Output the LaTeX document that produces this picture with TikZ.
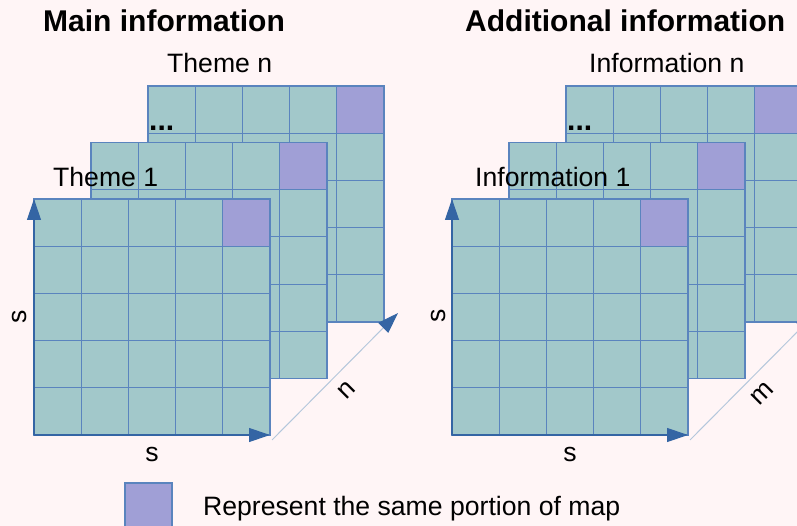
\documentclass[tikz,border=0pt]{standalone}
\usepackage{fontspec}
\setmainfont{Liberation Sans}
\usetikzlibrary{arrows.meta,calc}
\definecolor{bgpink}{HTML}{FFF5F6}
\definecolor{cellfill}{HTML}{A2C8CA}
\definecolor{purplefill}{HTML}{A09FD6}
\definecolor{gridblue}{HTML}{5A84BE}
\definecolor{axisblue}{HTML}{3465A4}
\definecolor{diagblue}{HTML}{B4C7DC}
\tikzset{
  cellbox/.style={draw=gridblue, fill=cellfill, line width=1.1pt, inner sep=0pt, outer sep=0pt,
    minimum width=236pt, minimum height=236pt, anchor=north west},
  samebox/.style={draw=gridblue, fill=purplefill, line width=1.1pt, inner sep=0pt, outer sep=0pt,
    minimum width=47.2pt, minimum height=47.2pt},
  cellline/.style={draw=gridblue, line width=1.1pt},
  axis/.style={draw=axisblue, line width=1.2pt, -{Triangle[length=21pt,width=14pt]}},
  diag/.style={draw=diagblue, line width=1pt, -{Triangle[length=21pt,width=14pt,color=axisblue]}},
  title/.style={font=\fontsize{30}{36}\selectfont\bfseries, anchor=base west, inner sep=0pt},
  lbl/.style={font=\fontsize{26.6}{32}\selectfont, inner sep=0pt}
}
\newcommand\mapgrid[3]{%
  \node[cellbox] (#3) at (#1,#2) {};
  \foreach \k in {1,...,4}{
    \draw[cellline] ($(#3.north west)+(\k*47.2,0)$) -- ($(#3.south west)+(\k*47.2,0)$);
    \draw[cellline] ($(#3.north west)+(0,\k*47.2)$) -- ($(#3.north east)+(0,\k*47.2)$);
  }
  \node[samebox, anchor=north east] (#3p) at (#3.north east) {};
}
\begin{document}
\begin{tikzpicture}[x=1pt,y=-1pt]
\useasboundingbox (0,0) rectangle (797,526);
\fill[bgpink] (0,0) rectangle (797,526);
\clip (0,0) rectangle (797,526);

% left group
\mapgrid{148}{86}{Ln}
\mapgrid{91}{142.5}{Lm}
\mapgrid{34}{199}{Lf}
% right group
\mapgrid{566}{86}{Rn}
\mapgrid{509}{142.5}{Rm}
\mapgrid{452}{199}{Rf}

% axes
\draw[axis] (Lf.south west) -- (Lf.north west);
\draw[axis] (Lf.south west) -- (Lf.south east);
\coordinate (Ld0) at (272,440);
\coordinate (Ld1) at (398,313);
\draw[diag] (Ld0) -- (Ld1);

\draw[axis] (Rf.south west) -- (Rf.north west);
\draw[axis] (Rf.south west) -- (Rf.south east);
\coordinate (Rd0) at (690,440);
\coordinate (Rd1) at (816,313);
\draw[diag] (Rd0) -- (Rd1);

% titles
\node[title] (tL) at (43,32) {Main information};
\node[title] (tR) at (465,32) {Additional information};

% layer labels
\node[lbl, anchor=base west] (thn) at (167,73) {Theme n};
\node[lbl, anchor=base west] (th1) at (53,187) {Theme 1};
\node[lbl, anchor=base west] (inn) at (589,73) {Information n};
\node[lbl, anchor=base west] (in1) at (475,187) {Information 1};
\node[title] (dL) at (149,131) {...};
\node[title] (dR) at (567,131) {...};

% dimension labels
\node[lbl, anchor=base] (sLb) at (152,461) {s};
\node[lbl, rotate=90] (sLl) at (19,317) {s};
\node[lbl, rotate=45] (nL) at (347,390) {n};
\node[lbl, anchor=base] (sRb) at (570,461) {s};
\node[lbl, rotate=90] (sRl) at (438,316) {s};
\node[lbl, rotate=45] (mR) at (762,394) {m};

% legend
\node[samebox, anchor=north west, minimum width=47pt, minimum height=47pt] (leg) at (125,483) {};
\node[lbl, anchor=base west] (legt) at (203,515) {Represent the same portion of map};
\end{tikzpicture}
\end{document}
